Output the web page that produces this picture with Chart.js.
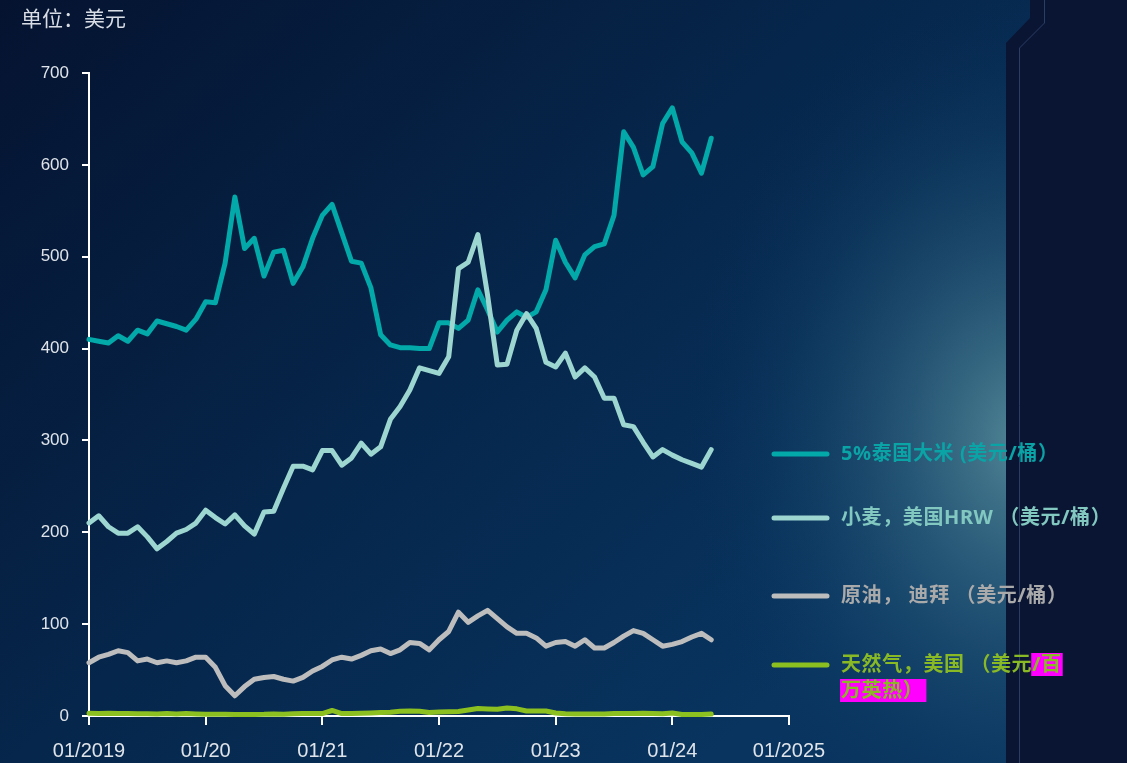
<!DOCTYPE html>
<html lang="zh-CN">
<head>
  <meta charset="UTF-8">
  <title>大宗商品价格</title>
  <script src="https://cdn.jsdelivr.net/npm/chart.js@4"></script>
  <style>
    html, body {
      margin: 0;
      padding: 0;
      background: #061633;
      overflow: hidden;
    }
    canvas { display: block; }
  </style>
</head>
<body>
  <canvas id="chart" width="1127" height="763"></canvas>
  <script>
    // monthly points, 2019-01 .. 2024-05
    const months = [
      '2019-01','2019-02','2019-03','2019-04','2019-05','2019-06','2019-07','2019-08','2019-09','2019-10','2019-11','2019-12',
      '2020-01','2020-02','2020-03','2020-04','2020-05','2020-06','2020-07','2020-08','2020-09','2020-10','2020-11','2020-12',
      '2021-01','2021-02','2021-03','2021-04','2021-05','2021-06','2021-07','2021-08','2021-09','2021-10','2021-11','2021-12',
      '2022-01','2022-02','2022-03','2022-04','2022-05','2022-06','2022-07','2022-08','2022-09','2022-10','2022-11','2022-12',
      '2023-01','2023-02','2023-03','2023-04','2023-05','2023-06','2023-07','2023-08','2023-09','2023-10','2023-11','2023-12',
      '2024-01','2024-02','2024-03','2024-04','2024-05'
    ];
    const rice = [
      410,408,406,414,408,420,416,430,427,424,420,432,
      451,450,493,565,509,520,479,505,507,471,489,520,
      545,557,526,495,493,466,415,404,401,401,400,400,
      428,428,422,431,464,442,418,431,440,434,440,464,
      518,494,477,502,511,514,545,636,619,589,598,645,
      662,625,613,591,629
    ];
    const wheat = [
      210,218,206,199,199,206,195,182,190,199,203,210,
      224,216,209,219,207,198,222,223,248,272,272,268,
      289,289,273,281,297,285,293,323,337,355,379,376,
      373,391,487,494,524,458,382,383,420,438,422,385,
      380,395,369,379,369,346,346,317,315,298,282,290,
      284,279,275,271,290
    ];
    const oil = [
      58,64,67,71,69,60,62,58,60,58,60,64,
      64,53,33,22,32,40,42,43,40,38,42,49,
      54,61,64,62,66,71,73,68,72,80,79,72,
      83,92,113,102,109,115,106,97,90,90,85,76,
      80,81,76,83,74,74,80,87,93,90,83,76,
      78,81,86,90,83
    ];
    const gas = [
      3.1,2.7,2.9,2.6,2.6,2.4,2.4,2.2,2.6,2.3,2.6,2.2,
      2.0,1.9,1.8,1.7,1.7,1.6,1.8,2.3,1.9,2.4,2.6,2.6,
      2.7,6.0,2.6,2.7,2.9,3.3,3.8,4.1,5.2,5.5,5.1,3.8,
      4.3,4.7,4.9,6.6,8.1,7.6,7.3,8.8,7.8,5.5,5.5,5.5,
      3.3,2.4,2.3,2.2,2.2,2.2,2.6,2.6,2.6,3.0,2.7,2.5,
      3.2,1.7,1.5,1.6,2.1
    ];
    const xTickLabels = ['01/2019', '01/20', '01/21', '01/22', '01/23', '01/24', '01/2025'];
    const yTicks = [0, 100, 200, 300, 400, 500, 600, 700];
    const seriesNames = [
      '5%泰国大米 (美元/桶）',
      '小麦，美国HRW （美元/桶）',
      '原油， 迪拜 （美元/桶）',
      '天然气，美国 （美元/百万英热）'
    ];
    const unitLabel = '单位：美元';

    const colors = ['#03a8a9', '#9dd6d1', '#bdbdbd', '#8cc021'];
    const textColors = ['#0aa3a6', '#82c8c0', '#aaaaaa', '#8ab926'];

    // month string -> months since 2019-01
    function monthPos(m) {
      const [y, mo] = m.split('-').map(Number);
      return (y - 2019) * 12 + (mo - 1);
    }
    function toPoints(values) {
      return values.map((v, i) => ({ x: monthPos(months[i]), y: v }));
    }

    const backdrop = {
      id: 'backdrop',
      beforeDraw(chart) {
        const { ctx, width, height } = chart;
        ctx.save();
        const base = ctx.createLinearGradient(0, 0, 700, height);
        base.addColorStop(0, '#051330');
        base.addColorStop(0.55, '#06264b');
        base.addColorStop(1, '#08345f');
        ctx.fillStyle = base;
        ctx.fillRect(0, 0, width, height);

        ctx.save();
        ctx.translate(1025, 440);
        ctx.scale(1, 1.3);
        const glow = ctx.createRadialGradient(0, 0, 0, 0, 0, 340);
        glow.addColorStop(0, 'rgba(96,150,160,0.85)');
        glow.addColorStop(0.35, 'rgba(62,115,138,0.55)');
        glow.addColorStop(0.7, 'rgba(30,80,115,0.25)');
        glow.addColorStop(1, 'rgba(8,50,95,0)');
        ctx.fillStyle = glow;
        ctx.fillRect(-1025, -440, width, height);
        ctx.restore();

        // right side panel
        ctx.fillStyle = '#0a1533';
        ctx.beginPath();
        ctx.moveTo(1006, height);
        ctx.lineTo(1006, 43);
        ctx.lineTo(1030, 18);
        ctx.lineTo(1030, 0);
        ctx.lineTo(width, 0);
        ctx.lineTo(width, height);
        ctx.closePath();
        ctx.fill();
        ctx.strokeStyle = 'rgba(70,95,140,0.55)';
        ctx.lineWidth = 1;
        ctx.beginPath();
        ctx.moveTo(1019.5, height);
        ctx.lineTo(1019.5, 48);
        ctx.lineTo(1044.5, 23);
        ctx.lineTo(1044.5, 0);
        ctx.stroke();

        ctx.fillStyle = '#d9dee6';
        ctx.font = '21px "Noto Sans CJK SC", sans-serif';
        ctx.textBaseline = 'middle';
        ctx.fillText(unitLabel, 21, 18);
        ctx.restore();
      }
    };

    const sideLegend = {
      id: 'sideLegend',
      afterDraw(chart) {
        const { ctx } = chart;
        const rows = [454, 518, 596, 665];
        ctx.save();
        ctx.font = 'bold 20px "Noto Sans", "Noto Sans CJK SC", sans-serif';
        ctx.letterSpacing = '0.6px';
        ctx.textBaseline = 'middle';
        seriesNames.forEach((name, i) => {
          const y = rows[i];
          ctx.strokeStyle = colors[i];
          ctx.lineWidth = 5;
          ctx.lineCap = 'round';
          ctx.beginPath();
          ctx.moveTo(774, y);
          ctx.lineTo(827, y);
          ctx.stroke();
          ctx.fillStyle = textColors[i];
          if (i < 3) {
            ctx.fillText(name, 841, y);
            return;
          }
          // last label wraps onto a second line
          const cut = name.indexOf('万');
          const line1 = name.slice(0, cut);
          const line2 = name.slice(cut);
          const hl = line1.indexOf('/');
          const head = line1.slice(0, hl);
          const tail = line1.slice(hl);
          const wHead = ctx.measureText(head).width;
          const wTail = ctx.measureText(tail).width;
          const w2 = ctx.measureText(line2).width;
          ctx.fillStyle = '#ff00ff';
          ctx.fillRect(841 + wHead - 1, y - 12, wTail + 2, 23);
          ctx.fillRect(840, y + 14, w2 + 4, 23);
          ctx.fillStyle = textColors[i];
          ctx.fillText(line1, 841, y);
          ctx.fillText(line2, 841, y + 26);
        });
        ctx.restore();
      }
    };

    const names = seriesNames;
    const ctx = document.getElementById('chart').getContext('2d');
    new Chart(ctx, {
      type: 'line',
      data: {
        datasets: [
          { label: names[0], data: toPoints(rice), borderColor: colors[0], order: 2 },
          { label: names[1], data: toPoints(wheat), borderColor: colors[1], order: 1 },
          { label: names[2], data: toPoints(oil), borderColor: colors[2], order: 3 },
          { label: names[3], data: toPoints(gas), borderColor: colors[3], order: 4 }
        ].map(d => Object.assign(d, {
          borderWidth: 5,
          pointRadius: 0,
          tension: 0,
          fill: false,
          clip: false,
          borderJoinStyle: 'round',
          borderCapStyle: 'round'
        }))
      },
      options: {
        responsive: false,
        animation: false,
        layout: { padding: { top: 73, right: 338, left: 0, bottom: 0 } },
        plugins: {
          legend: { display: false },
          tooltip: { enabled: false }
        },
        scales: {
          x: {
            type: 'linear',
            min: 0,
            max: 72,
            afterFit: s => { s.height = 47; },
            afterBuildTicks: s => { s.ticks = xTickLabels.map((_, i) => ({ value: i * 12 })); },
            ticks: {
              color: '#dfe4ea',
              font: { family: '"Liberation Sans", Arial, sans-serif', size: 20 },
              padding: 14,
              maxRotation: 0,
              autoSkip: false,
              callback: v => xTickLabels[v / 12]
            },
            grid: { drawOnChartArea: false, drawTicks: true, tickLength: 9, color: '#ffffff', lineWidth: 2 },
            border: { display: true, color: '#ffffff', width: 2 }
          },
          y: {
            min: 0,
            max: 700,
            afterFit: s => { s.width = 89; },
            afterBuildTicks: s => { s.ticks = yTicks.map(v => ({ value: v })); },
            ticks: {
              color: '#dfe4ea',
              font: { family: '"Liberation Sans", Arial, sans-serif', size: 17 },
              padding: 13
            },
            grid: { drawOnChartArea: false, drawTicks: true, tickLength: 7, color: '#ffffff', lineWidth: 2 },
            border: { display: true, color: '#ffffff', width: 2 }
          }
        }
      },
      plugins: [backdrop, sideLegend]
    });
  </script>
</body>
</html>
